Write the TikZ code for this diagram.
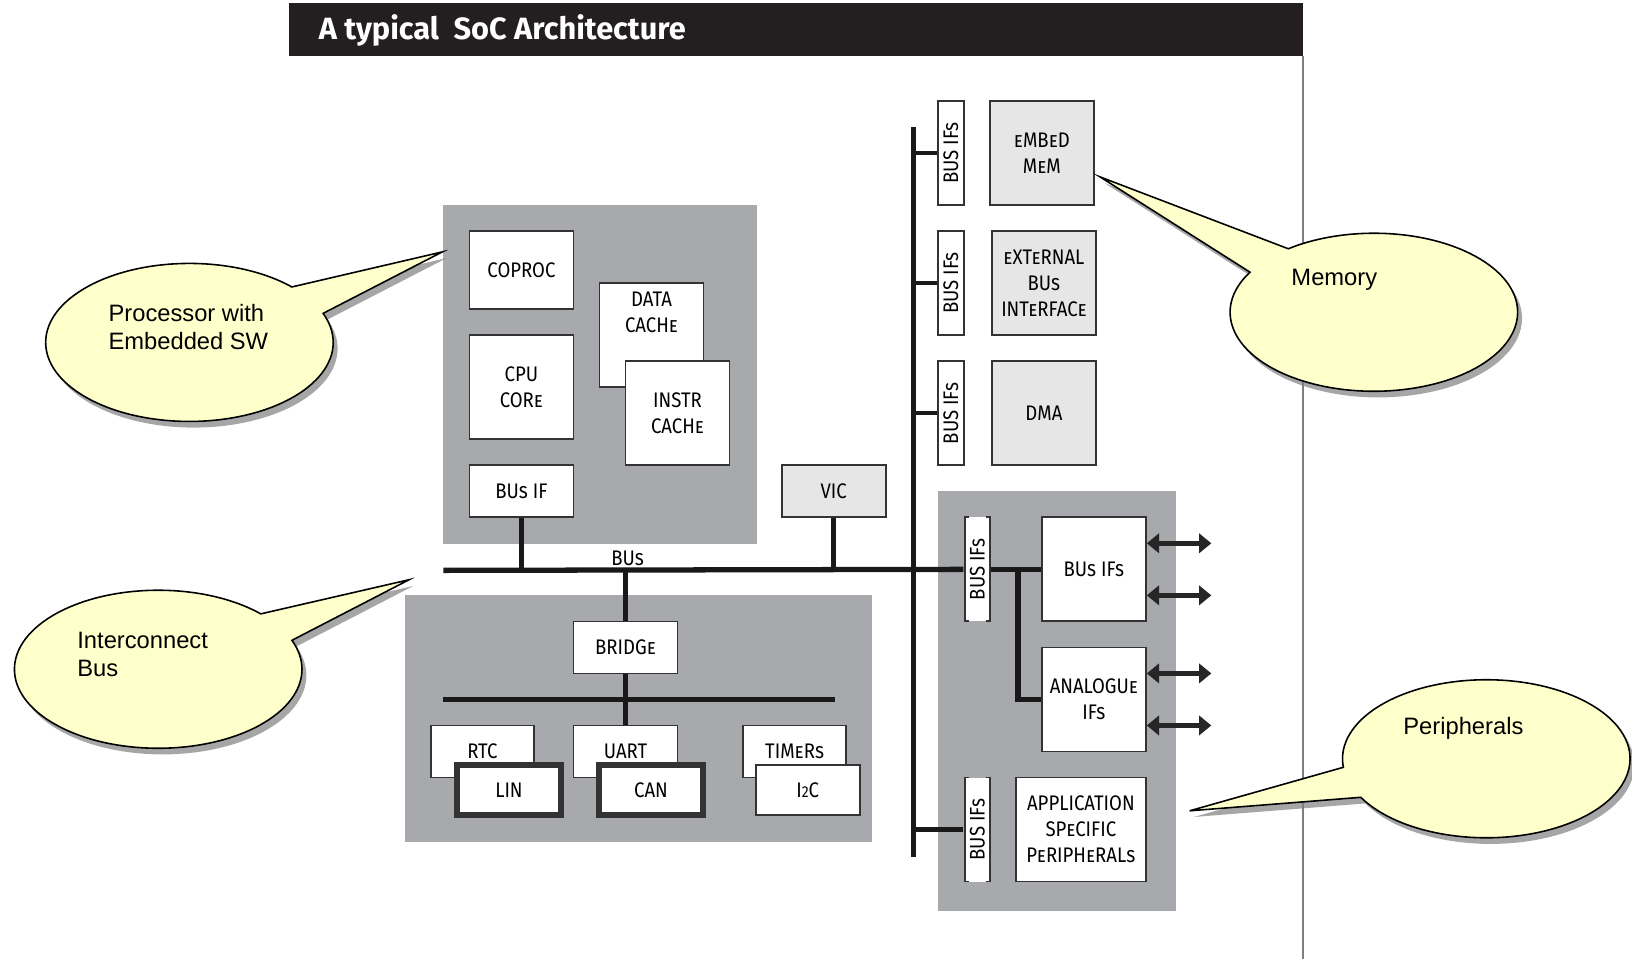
\documentclass[tikz,border=0pt]{standalone}
\usepackage{fontspec}
\setmainfont{Liberation Sans}
\newfontfamily\blockfont[FakeStretch=0.88,Letters=SmallCaps]{Fira Sans}
\newfontfamily\titlefont{Fira Sans}
\usepackage{tikz}
\usetikzlibrary{shapes.geometric,shapes.callouts,shadows,arrows.meta,positioning,calc}
\definecolor{socgray}{HTML}{A7A9AC}
\definecolor{memgray}{HTML}{E6E6E6}
\definecolor{titlebar}{HTML}{231F20}
\definecolor{bubblefill}{HTML}{FFFFCC}
\definecolor{blkline}{HTML}{333333}
\definecolor{pagerule}{HTML}{7F7F7F}
\tikzset{
  titletxt/.style={text=white, font=\titlefont\bfseries\fontsize{17.5}{19}\selectfont, inner sep=0pt},
  blk/.style={rectangle, draw=blkline, line width=1pt, fill=white, minimum width=2.08cm, minimum height=1.04cm, inner sep=0pt, align=center, font=\blockfont\fontsize{12}{14.8}\selectfont},
  midblk/.style={blk, minimum height=1.56cm},
  sqblk/.style={blk, minimum height=2.08cm},
  memblk/.style={sqblk, fill=memgray},
  heavyblk/.style={blk, line width=3.2pt, minimum height=1.0cm},
  busifv/.style={blk, rotate=90, minimum width=2.08cm, minimum height=0.52cm},
  brkif/.style={busifv, draw=none},
  bus/.style={line width=3pt, draw=black!90},
  stub/.style={line width=2.6pt, draw=black!90},
  dbl/.style={line width=2.6pt, draw=black!85, {Triangle[length=7pt,width=11pt]}-{Triangle[length=7pt,width=11pt]}},
  bubble/.style={ellipse callout, draw=black, line width=0.9pt, fill=bubblefill, minimum width=5.75cm, minimum height=3.16cm, inner sep=0pt, callout pointer arc=23, drop shadow={shadow xshift=2.5pt, shadow yshift=-3.5pt, opacity=0.7}},
  bubbletext/.style={align=left, font=\fontsize{13.5}{16}\selectfont, inner sep=0pt},
}

\begin{document}
\begin{tikzpicture}[x=0.02082cm, y=-0.02082cm]
  \useasboundingbox (0,0) rectangle (1568,921);
  % header
  \fill[titlebar] (278,3) rectangle (1252,54);
  \node[titletxt, anchor=west] (title) at (306,29) {A typical\ \ SoC Architecture};
  \draw[pagerule, line width=1.2pt] (1252,54) -- (1252,921);
  % shaded areas
  \fill[socgray] (426,197) rectangle (727,523);
  \fill[socgray] (389,572) rectangle (838,809);
  \fill[socgray] (901,472) rectangle (1130,875);
  % processor
  \node[midblk] (coproc) at (501,259.5) {COPROC};
  \node[sqblk] (cpucore) at (501,372) {CPU\\CORe};
  \node[sqblk, label={[blk, draw=none, fill=none, minimum height=0pt, anchor=north, yshift=-5pt]north:DATA\\CACHe}] (dcache) at (626,322) {};
  \node[sqblk] (icache) at (651,397) {INSTR\\CACHe};
  \node[blk] (busifp) at (501,472) {BUs IF};
  \node[blk, fill=memgray] (vic) at (801,472) {VIC};
  % peripheral bridge
  \node[blk] (bridge) at (601,622) {BRIDGe};
  \node[blk, minimum width=2.06cm] (rtc) at (463.5,722) {RTC};
  \node[heavyblk] (lin) at (489,759) {LIN};
  \node[blk] (uart) at (601,722) {UART};
  \node[heavyblk] (can) at (625.5,759) {CAN};
  \node[blk, minimum width=2.06cm] (timers) at (763.5,722) {TIMeRs};
  \node[blk, minimum height=1.0cm] (i2c) at (776,759) {I{\fontsize{9}{9}\selectfont 2}C};
  % memories
  \node[busifv] (busifa) at (913.5,147) {BUS IFs};
  \node[memblk] (embmem) at (1001,147) {eMBeD\\MeM};
  \node[busifv] (busifb) at (913.5,272) {BUS IFs};
  \node[memblk] (extbus) at (1003,272) {eXTeRNAL\\BUs\\INTeRFACe};
  \node[busifv] (busifc) at (913.5,397) {BUS IFs};
  \node[memblk] (dma) at (1003,397) {DMA};
  % peripherals
  \node[brkif] (busifd) at (939,547) {BUS IFs};
  \node[sqblk] (perif) at (1051,547) {BUs IFs};
  \node[sqblk] (analog) at (1051,672) {ANALOGUe\\IFs};
  \node[brkif] (busife) at (939,797) {BUS IFs};
  \node[sqblk, minimum width=2.6cm] (appspec) at (1038.5,797) {APPLICATION\\SPeCIFIC\\PeRIPHeRALs};
  \foreach \b in {busifd,busife}{
    \draw[blkline, line width=1pt] ($(\b.center)+(-8,-50)$) -- ++(-4,0) -- ++(0,100) -- ++(4,0);
    \draw[blkline, line width=1pt] ($(\b.center)+(8,-50)$) -- ++(4,0) -- ++(0,100) -- ++(-4,0);
  }
  % buses
  \coordinate (busstart) at (426,548);
  \coordinate (vtop) at (878,122);
  \coordinate (vbot) at (878,823);
  \coordinate (tap) at (978,548);
  \coordinate (apbl) at (426,672);
  \coordinate (apbr) at (802,672);
  \draw[bus] (busstart) -- (busifd);
  \node[font=\blockfont\fontsize{12}{13.5}\selectfont, inner sep=0pt] (buslbl) at (603,536) {BUs};
  \draw[bus] (busifp.south) -- (busifp.south |- busstart);
  \draw[bus] (vic.south) -- (vic.south |- busstart);
  \draw[bus] (bridge.north) -- (bridge.north |- busstart);
  \draw[bus] (apbl) -- (apbr);
  \draw[bus] (bridge.south) -- (uart.north);
  \draw[bus] (vtop) -- (vbot);
  \foreach \b in {busifa,busifb,busifc,busife}
    \draw[stub] (\b) -- (\b -| vtop);
  \draw[bus] (busifd) -- (perif);
  \draw[bus] (tap) |- (analog);
  \foreach \n/\dy in {perif/-25,perif/25,analog/-25,analog/25}
    \draw[dbl] ($(\n.east)+(0,\dy)$) -- ++(62,0);
  % callouts
  \coordinate (proctip) at (425,242);
  \node[bubble, callout absolute pointer={(proctip)}] (proccall) at (182,329) {};
  \node[bubbletext, anchor=west] (proctxt) at (104,314) {Processor with\\Embedded SW};
  \coordinate (bustip) at (393,557);
  \node[bubble, callout absolute pointer={(bustip)}] (buscall) at (152,643) {};
  \node[bubbletext, anchor=west] (bustxt) at (74,629) {Interconnect\\Bus};
  \coordinate (memtip) at (1057,170);
  \node[bubble, callout absolute pointer={(memtip)}] (memcall) at (1320,300) {};
  \node[bubbletext] (memtxt) at (1282,269) {Memory};
  \coordinate (pertip) at (1143,779);
  \node[bubble, callout absolute pointer={(pertip)}] (percall) at (1428,729) {};
  \node[bubbletext] (pertxt) at (1406,700) {Peripherals};
\end{tikzpicture}
\end{document}
